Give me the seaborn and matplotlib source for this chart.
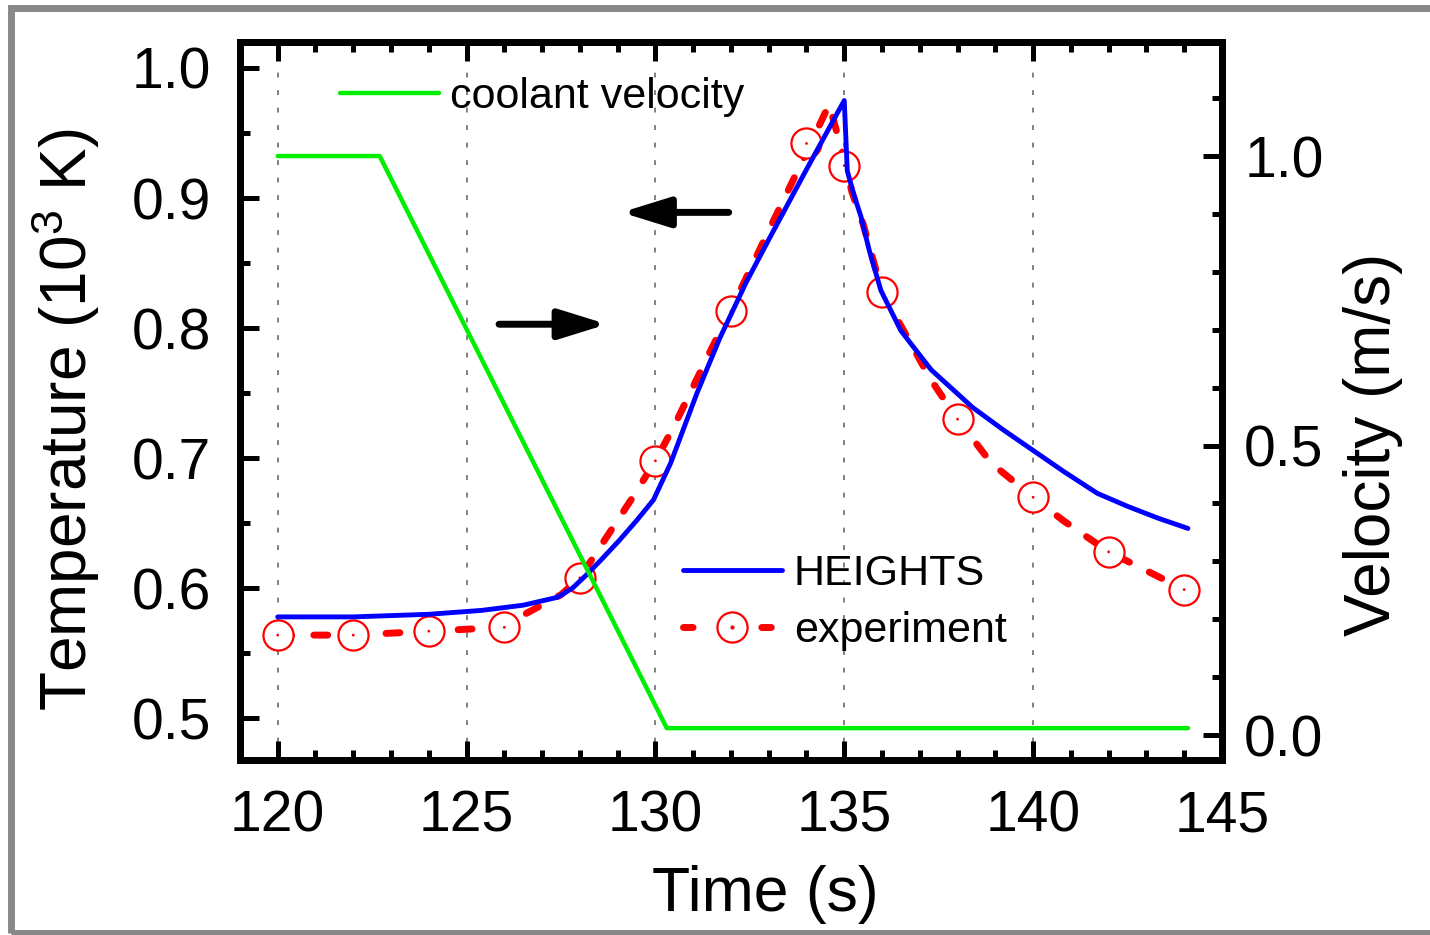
import numpy as np
import pandas as pd
import matplotlib.pyplot as plt
import seaborn as sns
from matplotlib.lines import Line2D
from matplotlib.patches import Rectangle
from matplotlib.ticker import MultipleLocator

# coolant velocity (right axis, m/s)
vel_time = [120, 122.7, 130.3, 144.1]
vel_value = [1.0, 1.0, 0.012, 0.012]

# HEIGHTS simulation (left axis, 10^3 K)
hts_time = [120, 122, 124, 125.4, 126.5, 127.4, 127.8, 128.2, 128.6, 129.05, 129.5, 129.95,
            130.4, 131.1, 131.7, 132.4, 133, 134, 135, 135.08, 135.25, 135.44, 135.66, 135.97,
            136.5, 137.3, 138.4, 139.2, 140, 140.8, 141.7, 142.5, 143.3, 144.1]
hts_temp = [0.578, 0.578, 0.580, 0.583, 0.587, 0.593, 0.600, 0.611, 0.623, 0.637, 0.652, 0.668,
            0.696, 0.750, 0.792, 0.835, 0.868, 0.922, 0.975, 0.921, 0.903, 0.886, 0.860, 0.829,
            0.798, 0.768, 0.739, 0.722, 0.706, 0.690, 0.673, 0.663, 0.654, 0.646]

# experiment: dashed curve
exp_line_time = [120, 122, 124, 126, 126.6, 127.5, 128, 128.7, 129.4, 130, 130.5, 131, 131.5,
                 132, 133, 134, 134.6, 135, 135.2, 135.5, 136, 137.3, 138, 138.9, 140, 140.8,
                 142, 142.9, 144]
exp_line_temp = [0.564, 0.564, 0.567, 0.570, 0.581, 0.595, 0.608, 0.639, 0.670, 0.698, 0.725,
                 0.755, 0.785, 0.814, 0.875, 0.935, 0.972, 0.930, 0.905, 0.880, 0.828, 0.760,
                 0.730, 0.696, 0.670, 0.652, 0.628, 0.615, 0.599]
# experiment: measured points
exp_time = [120, 122, 124, 126, 128, 130, 132, 134, 135, 136, 138, 140, 142, 144]
exp_temp = [0.564, 0.564, 0.567, 0.570, 0.608, 0.698, 0.813, 0.942, 0.925, 0.828, 0.730,
            0.670, 0.628, 0.599]

x_ticks = [120, 125, 130, 135, 140, 145]
temp_ticks = [0.5, 0.6, 0.7, 0.8, 0.9, 1.0]
vel_ticks = [0.0, 0.5, 1.0]

sns.set_theme(style='ticks')
plt.rcParams['font.family'] = ['Liberation Sans', 'DejaVu Sans']
plt.rcParams['mathtext.default'] = 'regular'
plt.rcParams['text.color'] = 'black'
plt.rcParams['axes.labelcolor'] = 'black'
plt.rcParams['xtick.color'] = 'black'
plt.rcParams['ytick.color'] = 'black'

RED = '#ff0000'
BLUE = '#0000ff'
GREEN = '#00ee00'

fig = plt.figure(figsize=(14.3, 9.35), dpi=100)
ax = fig.add_axes([0.1678, 0.1872, 0.6867, 0.7679])
ax2 = ax.twinx()

# experiment
sns.lineplot(x=exp_line_time, y=exp_line_temp, ax=ax, color=RED, lw=5, estimator=None,
             sort=False, linestyle=(0, (2.0, 3.2)), dash_capstyle='round', zorder=2)
sns.scatterplot(x=exp_time, y=exp_temp, ax=ax, marker='o', s=470, facecolor='white',
                edgecolor=RED, linewidth=1.6, zorder=2.5)
sns.scatterplot(x=exp_time, y=exp_temp, ax=ax, marker='o', s=4, color=RED,
                edgecolor='none', zorder=2.6)
# simulation
sns.lineplot(x=hts_time, y=hts_temp, ax=ax, color=BLUE, lw=3.5, estimator=None,
             sort=False, zorder=3)
# coolant velocity
sns.lineplot(x=vel_time, y=vel_value, ax=ax2, color=GREEN, lw=3.2, estimator=None,
             sort=False, zorder=3)

ax.set_xlim(119, 145)
ax.set_ylim(0.468, 1.02)
ax2.set_ylim(-0.043, 1.197)

ax.set_xticks(x_ticks)
ax.set_xticklabels([str(t) for t in x_ticks])
ax.xaxis.set_minor_locator(MultipleLocator(1))
ax.set_yticks(temp_ticks)
ax.set_yticklabels([f'{t:.1f}' for t in temp_ticks])
ax.yaxis.set_minor_locator(MultipleLocator(0.05))
ax2.set_yticks(vel_ticks)
ax2.set_yticklabels([f'{t:.1f}' for t in vel_ticks])
ax2.yaxis.set_minor_locator(MultipleLocator(0.1))

ax.tick_params(axis='x', which='both', direction='in', top=True, bottom=True,
               labeltop=False, labelsize=41, pad=21)
ax.tick_params(axis='y', which='both', direction='in', left=True, right=False,
               labelsize=41, pad=21)
ax2.tick_params(axis='y', which='both', direction='in', right=True, left=False,
                labelsize=41, pad=16)
for a in (ax, ax2):
    a.tick_params(which='major', length=14, width=3.6)
    a.tick_params(which='minor', length=7, width=3.6)
    for sp in a.spines.values():
        sp.set_linewidth(5)
        sp.set_color('black')
        sp.set_visible(True)

ax.xaxis.grid(True, which='major', color='#808080', linestyle=(0, (2.5, 6.5)), lw=1.4)
ax.yaxis.grid(False)

ax.set_xlabel('Time (s)', fontsize=45)
ax.set_ylabel('Temperature (10$^3$ K)', fontsize=46)
ax2.set_ylabel('Velocity (m/s)', fontsize=46, rotation=90)
ax.xaxis.set_label_coords(0.5346, -0.146)
ax.yaxis.set_label_coords(-0.14, 0.474)
ax2.yaxis.set_label_coords(1.123, 0.439)

# direction arrows
arrow_kw = dict(arrowstyle='-|>,head_length=1.45,head_width=0.45', mutation_scale=20,
                lw=5, color='black', shrinkA=0, shrinkB=0, capstyle='round')
ax.annotate('', xy=(129.1, 0.889), xytext=(131.94, 0.889), arrowprops=arrow_kw)
ax.annotate('', xy=(128.72, 0.803), xytext=(125.86, 0.803), arrowprops=arrow_kw)

# legends
green_h = Line2D([], [], color=GREEN, lw=3.2)
leg1 = ax2.legend([green_h], ['coolant velocity'], loc='center left',
                  bbox_to_anchor=(0.1018, 0.9234), frameon=False, fontsize=31,
                  handlelength=2.3, handletextpad=0.25, borderpad=0, borderaxespad=0)
blue_h = Line2D([], [], color=BLUE, lw=3.5)
red_h = Line2D([], [], color=RED, lw=5, linestyle=(0, (1.37, 9.9)), dash_capstyle='round',
               marker='o', ms=21.7, mfc='white', mec=RED, mew=1.6)
dot_h = Line2D([], [], color=RED, lw=0, marker='o', ms=2)
leg2 = ax2.legend([blue_h, (red_h, dot_h)], ['HEIGHTS', 'experiment'], loc='center left',
                  bbox_to_anchor=(0.451, 0.2194), frameon=False, fontsize=31,
                  handlelength=2.3, handletextpad=0.28, borderpad=0, borderaxespad=0,
                  labelspacing=0.4)
ax2.add_artist(leg1)

# outer grey frame
fig.patches.append(Rectangle((0.008, 0.0021), 0.9955, 0.9893, transform=fig.transFigure,
                             fill=False, edgecolor='#888888', lw=5, clip_on=False))

fig.savefig('out.png', dpi=100)
